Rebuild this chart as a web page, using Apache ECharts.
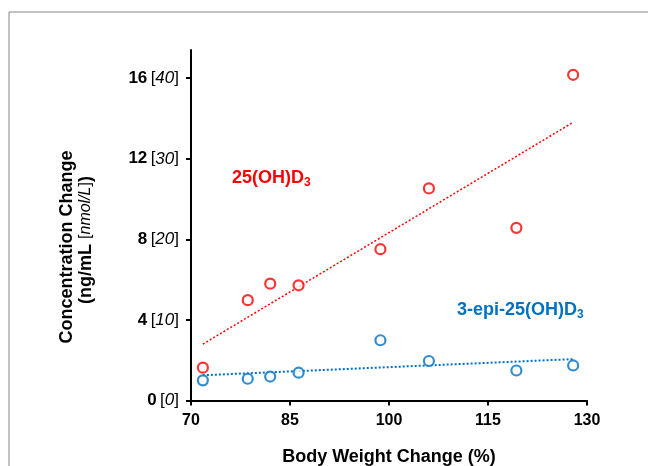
<!DOCTYPE html>
<html>
<head>
<meta charset="utf-8">
<script src="https://cdn.jsdelivr.net/npm/echarts@6/dist/echarts.min.js"></script>
<style>
  html, body { margin: 0; padding: 0; background: #fff; }
  #chart { width: 648px; height: 466px; }
</style>
</head>
<body>
<div id="chart"></div>
<script>
// body weight change (%) for each animal
const weightChange = [71.8, 78.6, 82.0, 86.3, 98.7, 106.05, 119.3, 127.9];
// concentration change, ng/mL
const ohD3 = [1.63, 4.98, 5.8, 5.72, 7.51, 10.53, 8.57, 16.17];
const epiD3 = [1.0, 1.08, 1.19, 1.38, 2.99, 1.96, 1.49, 1.74];
const yTicks = [0, 4, 8, 12, 16];
const xTicks = [70, 85, 100, 115, 130];

const FONT = '"Liberation Sans", Arial, sans-serif';
const RED = '#ff0000';
const BLUE = '#0070c0';

function pairs(xs, ys) {
  return xs.map((x, i) => [x, ys[i]]);
}

// least squares trend line, drawn from first to last x
function trend(xs, ys) {
  const n = xs.length;
  const mx = xs.reduce((a, b) => a + b, 0) / n;
  const my = ys.reduce((a, b) => a + b, 0) / n;
  let sxy = 0, sxx = 0;
  xs.forEach((x, i) => {
    sxy += (x - mx) * (ys[i] - my);
    sxx += (x - mx) * (x - mx);
  });
  const slope = sxy / sxx;
  const x0 = Math.min(...xs), x1 = Math.max(...xs);
  return [[x0, my + slope * (x0 - mx)], [x1, my + slope * (x1 - mx)]];
}

const chart = echarts.init(document.getElementById('chart'));

const tickStyle = { color: '#000', width: 2 };

chart.setOption({
  animation: false,
  textStyle: { fontFamily: FONT },
  grid: {
    left: 191,
    right: 61,
    top: 50,
    bottom: 65.5,
    containLabel: false,
    outerBoundsMode: 'none'
  },
  xAxis: {
    type: 'value',
    min: 70,
    max: 130,
    interval: 15,
    splitLine: { show: false },
    axisLine: { lineStyle: tickStyle },
    axisTick: { show: true, length: 5, lineStyle: tickStyle, customValues: xTicks },
    axisLabel: {
      color: '#000',
      fontSize: 16,
      fontWeight: 'bold',
      fontFamily: FONT,
      margin: 12,
      customValues: xTicks
    }
  },
  yAxis: {
    type: 'value',
    min: 0,
    max: 17.4,
    splitLine: { show: false },
    axisLine: { show: true, lineStyle: tickStyle },
    axisTick: { show: true, length: 5, lineStyle: tickStyle, customValues: yTicks },
    axisLabel: {
      customValues: yTicks,
      margin: 12,
      formatter: v => `{b|${v}} {n|[}{i|${v * 2.5}}{n|]}`,
      rich: {
        b: { fontSize: 17, fontWeight: 'bold', color: '#000', fontFamily: FONT },
        n: { fontSize: 17, color: '#000', fontFamily: FONT },
        i: { fontSize: 17, fontStyle: 'italic', color: '#000', fontFamily: FONT }
      }
    }
  },
  series: [
    {
      name: 'trend 25(OH)D3',
      type: 'line',
      data: trend(weightChange, ohD3),
      symbol: 'none',
      lineStyle: { color: RED, width: 1.5, type: [2, 2] },
      z: 1
    },
    {
      name: 'trend 3-epi',
      type: 'line',
      data: trend(weightChange, epiD3),
      symbol: 'none',
      lineStyle: { color: BLUE, width: 2, type: [2, 2] },
      z: 1
    },
    {
      name: '25(OH)D3',
      type: 'scatter',
      data: pairs(weightChange, ohD3),
      symbol: 'circle',
      symbolSize: 10,
      itemStyle: { color: '#fff', borderColor: RED, borderWidth: 2.2 },
      z: 3
    },
    {
      name: '3-epi-25(OH)D3',
      type: 'scatter',
      data: pairs(weightChange, epiD3),
      symbol: 'circle',
      symbolSize: 10,
      itemStyle: { color: '#fff', borderColor: BLUE, borderWidth: 2.2 },
      z: 3
    }
  ],
  graphic: [
    {
      type: 'rect',
      shape: { x: 9, y: 12, width: 700, height: 520 },
      style: { fill: 'none', stroke: '#888', lineWidth: 1 },
      z: -10
    },
    {
      type: 'text',
      x: 389,
      y: 457,
      style: {
        text: 'Body Weight Change (%)',
        fill: '#000',
        font: 'bold 18px ' + FONT,
        textAlign: 'center',
        textVerticalAlign: 'middle'
      }
    },
    {
      type: 'text',
      x: 67,
      y: 247,
      rotation: Math.PI / 2,
      style: {
        text: 'Concentration Change',
        fill: '#000',
        font: 'bold 18px ' + FONT,
        textAlign: 'center',
        textVerticalAlign: 'middle'
      }
    },
    {
      type: 'text',
      x: 86,
      y: 240,
      rotation: Math.PI / 2,
      style: {
        text: '{b|(ng/mL }{n|[}{i|nmol/L}{n|]}{b|)}',
        textAlign: 'center',
        textVerticalAlign: 'middle',
        rich: {
          b: { font: 'bold 18px ' + FONT, fill: '#000' },
          n: { font: '16px ' + FONT, fill: '#000' },
          i: { font: 'italic 16px ' + FONT, fill: '#000' }
        }
      }
    },
    {
      type: 'text',
      x: 232,
      y: 178,
      style: {
        text: '{m|25(OH)D}{s|3}',
        textVerticalAlign: 'middle',
        rich: {
          m: { font: 'bold 18px ' + FONT, fill: RED },
          s: { font: 'bold 12px ' + FONT, fill: RED, padding: [10, 0, 0, 0] }
        }
      }
    },
    {
      type: 'text',
      x: 457,
      y: 310,
      style: {
        text: '{m|3-epi-25(OH)D}{s|3}',
        textVerticalAlign: 'middle',
        rich: {
          m: { font: 'bold 18px ' + FONT, fill: BLUE },
          s: { font: 'bold 12px ' + FONT, fill: BLUE, padding: [10, 0, 0, 0] }
        }
      }
    }
  ]
});
</script>
</body>
</html>
